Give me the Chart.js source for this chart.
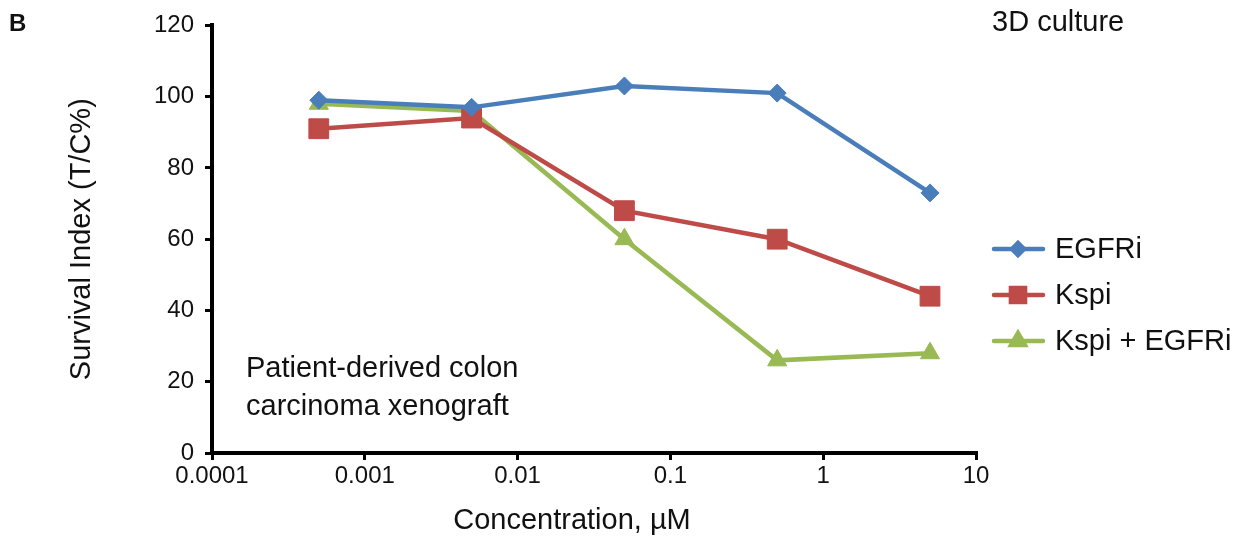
<!DOCTYPE html>
<html>
<head>
<meta charset="utf-8">
<script src="https://cdn.jsdelivr.net/npm/chart.js@4/dist/chart.umd.min.js"></script>
<style>
  body { margin: 0; background: #fff; }
  canvas { display: block; }
</style>
</head>
<body>
<canvas id="chart" width="1241" height="538"></canvas>
<script>
// concentrations, uM
const concentrations = [0.0005, 0.005, 0.05, 0.5, 5];
const egfri = [99, 97, 103, 101, 73];
const kspi = [91, 94, 68, 60, 44];
const kspiEgfri = [98, 96, 60, 26, 28];

const xTicks = [0.0001, 0.001, 0.01, 0.1, 1, 10];
const xTickLabels = ['0.0001', '0.001', '0.01', '0.1', '1', '10'];

const FONT = '"Liberation Sans", Arial, sans-serif';
const TEXT = '#111';

function series(values) {
  return concentrations.map((c, i) => ({ x: c, y: values[i] }));
}

const datasets = [
  { label: 'EGFRi', data: series(egfri), borderColor: '#4a7ebb', backgroundColor: '#4a7ebb',
    pointStyle: 'rectRot', pointRadius: 9, legendRadius: 6 },
  { label: 'Kspi', data: series(kspi), borderColor: '#be4b48', backgroundColor: '#be4b48',
    pointStyle: 'rect', pointRadius: 14, legendRadius: 10 },
  { label: 'Kspi + EGFRi', data: series(kspiEgfri), borderColor: '#98b954', backgroundColor: '#98b954',
    pointStyle: 'triangle', pointRadius: 11, legendRadius: 8 }
].map(d => Object.assign(d, { borderWidth: 4.5, tension: 0, pointBorderWidth: 1, pointHoverRadius: d.pointRadius }));

// labels, legend and x title drawn on top of the chart
const annotations = {
  id: 'annotations',
  afterDraw(chart) {
    const ctx = chart.ctx;
    ctx.save();
    ctx.fillStyle = TEXT;
    ctx.textBaseline = 'alphabetic';
    ctx.textAlign = 'left';
    ctx.font = 'bold 24px ' + FONT;
    ctx.fillText('B', 9, 31);
    ctx.font = '29px ' + FONT;
    ctx.fillText('3D culture', 992, 31);
    ctx.fillText('Patient-derived colon', 246, 377);
    ctx.fillText('carcinoma xenograft', 246, 415);

    ctx.textAlign = 'center';
    ctx.textBaseline = 'middle';
    ctx.fillText('Concentration, \u00b5M', 572, 521);

    // legend
    const rows = [249, 295, 341];
    chart.data.datasets.forEach((d, i) => {
      const y = rows[i];
      ctx.strokeStyle = d.borderColor;
      ctx.lineWidth = 4.5;
      ctx.lineCap = 'round';
      ctx.beginPath();
      ctx.moveTo(994, y);
      ctx.lineTo(1043, y);
      ctx.stroke();
      ctx.fillStyle = d.backgroundColor;
      Chart.helpers.drawPoint(ctx, { pointStyle: d.pointStyle, radius: d.legendRadius, borderWidth: 1 }, 1018, y);
      ctx.fill();
      ctx.fillStyle = TEXT;
      ctx.textAlign = 'left';
      ctx.fillText(d.label, 1055, y + 1);
    });
    ctx.restore();
  }
};

new Chart(document.getElementById('chart'), {
  type: 'line',
  data: { datasets },
  plugins: [annotations],
  options: {
    responsive: false,
    animation: false,
    layout: { padding: { top: 24, right: 265, left: 0, bottom: 0 } },
    plugins: { legend: { display: false }, tooltip: { enabled: false } },
    scales: {
      x: {
        type: 'logarithmic',
        min: 0.0001,
        max: 10,
        afterBuildTicks: scale => { scale.ticks = xTicks.map(v => ({ value: v, major: true })); },
        afterFit: scale => { scale.height = 85; },
        grid: { drawOnChartArea: false, drawTicks: true, tickLength: 7, color: '#000', lineWidth: 3 },
        border: { display: true, color: '#000', width: 4 },
        ticks: {
          autoSkip: false, maxRotation: 0, padding: 2, color: TEXT,
          font: { family: FONT, size: 24 },
          callback: value => xTickLabels[xTicks.indexOf(value)] ?? ''
        }
      },
      y: {
        min: 0,
        max: 120,
        afterFit: scale => { scale.width = 212; },
        grid: { drawOnChartArea: false, drawTicks: true, tickLength: 7, color: '#000', lineWidth: 3 },
        border: { display: true, color: '#000', width: 4 },
        ticks: { stepSize: 20, padding: 11, color: TEXT, font: { family: FONT, size: 24 } },
        title: {
          display: true, text: 'Survival Index (T/C%)', color: TEXT,
          font: { family: FONT, size: 29 }, padding: { top: 65, bottom: 0 }
        }
      }
    }
  }
});
</script>
</body>
</html>
